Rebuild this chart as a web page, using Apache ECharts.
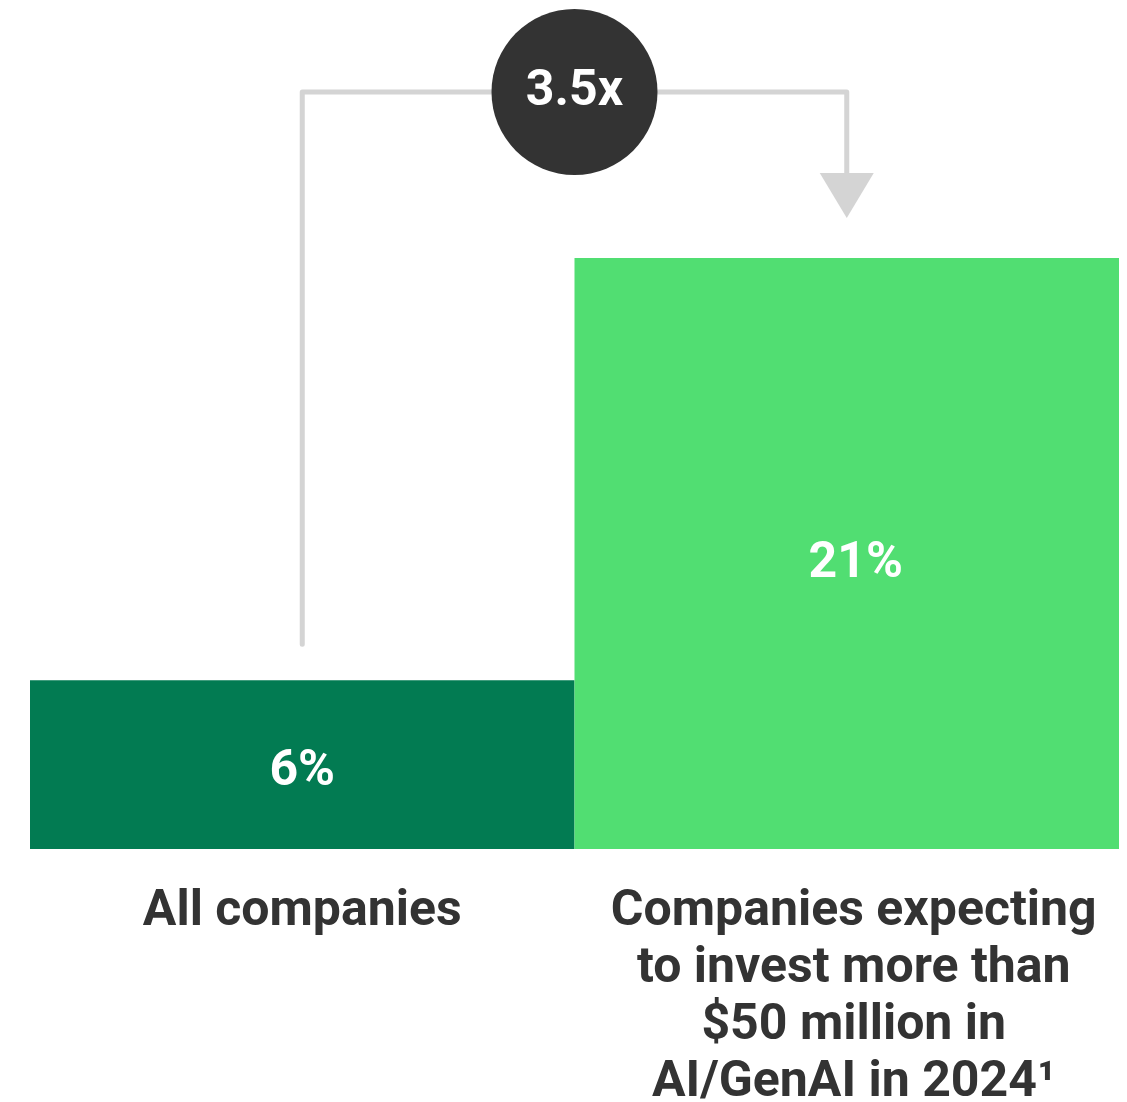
<!DOCTYPE html>
<html>
<head>
<meta charset="utf-8">
<script src="https://cdn.jsdelivr.net/npm/echarts@6/dist/echarts.min.js"></script>
<style>
  html, body { margin: 0; padding: 0; background: #ffffff; }
  #chart { width: 1127px; height: 1102px; }
</style>
</head>
<body>
<div id="chart"></div>
<script>
// Share of companies, by group
const categories = [
  'All companies',
  'Companies expecting\nto invest more than\n$50 million in\nAI/GenAI in 2024\u00b9'
];
const values = [6, 21];
const valueLabels = ['6%', '21%'];
const multipleLabel = '3.5x';
const barColors = ['#027b52', '#51de72'];

const FONT = 'Roboto, "Noto Sans", sans-serif';

const chart = echarts.init(document.getElementById('chart'), null, { renderer: 'canvas' });

chart.setOption({
  backgroundColor: '#ffffff',
  animation: false,
  grid: { left: 30, right: 8, top: 258, bottom: 253, containLabel: false, outerBoundsMode: 'none' },
  xAxis: {
    type: 'category',
    data: categories,
    axisLine: { show: false },
    axisTick: { show: false },
    axisLabel: {
      interval: 0,
      margin: 35,
      color: '#333333',
      fontFamily: FONT,
      fontWeight: 'bold',
      fontSize: 50,
      lineHeight: 57,
      align: 'center',
      formatter: (v, i) => i === 1 ? '{r|' + v + '}' : v,
      rich: {
        r: {
          color: '#333333',
          fontFamily: FONT,
          fontWeight: 'bold',
          fontSize: 50,
          lineHeight: 57,
          padding: [0, 0, 0, 14]
        }
      }
    }
  },
  yAxis: {
    type: 'value',
    min: 0,
    max: 21,
    show: false,
    splitLine: { show: false }
  },
  series: [{
    type: 'bar',
    barCategoryGap: 0,
    data: values.map((v, i) => ({
      value: v,
      itemStyle: { color: barColors[i] },
      label: { offset: i === 1 ? [9, 11] : [0, 8] }
    })),
    label: {
      show: true,
      position: 'inside',
      color: '#ffffff',
      fontFamily: FONT,
      fontWeight: 'bold',
      fontSize: 50,
      formatter: p => valueLabels[p.dataIndex]
    }
  }]
});

// Bracket from the first bar to the second, with the multiple in a dark badge
function drawBracket() {
  const p0 = chart.convertToPixel({ seriesIndex: 0 }, [0, values[0]]);
  const p1 = chart.convertToPixel({ seriesIndex: 0 }, [1, values[1]]);
  const mid = (chart.convertToPixel({ xAxisIndex: 0 }, 0) + chart.convertToPixel({ xAxisIndex: 0 }, 1)) / 2;
  const lineY = 92;
  const lineColor = '#d4d4d4';
  const startY = p0[1] - 36;
  const tipY = p1[1] - 40;
  const headH = 45;
  const headW = 27;
  chart.setOption({
    graphic: [
      {
        type: 'polyline',
        shape: { points: [[p0[0], startY], [p0[0], lineY], [p1[0], lineY], [p1[0], tipY - headH + 2]] },
        style: { stroke: lineColor, lineWidth: 5, fill: null, lineCap: 'round', lineJoin: 'round' },
        z: 10
      },
      {
        type: 'polygon',
        shape: { points: [[p1[0] - headW, tipY - headH], [p1[0] + headW, tipY - headH], [p1[0], tipY]] },
        style: { fill: lineColor },
        z: 10
      },
      {
        type: 'circle',
        shape: { cx: mid, cy: lineY, r: 83 },
        style: { fill: '#333333' },
        z: 11
      },
      {
        type: 'text',
        x: mid,
        y: lineY,
        style: {
          text: multipleLabel,
          fill: '#ffffff',
          font: 'bold 50px ' + FONT,
          align: 'center',
          verticalAlign: 'middle'
        },
        z: 12
      }
    ]
  });
}
drawBracket();
</script>
</body>
</html>
